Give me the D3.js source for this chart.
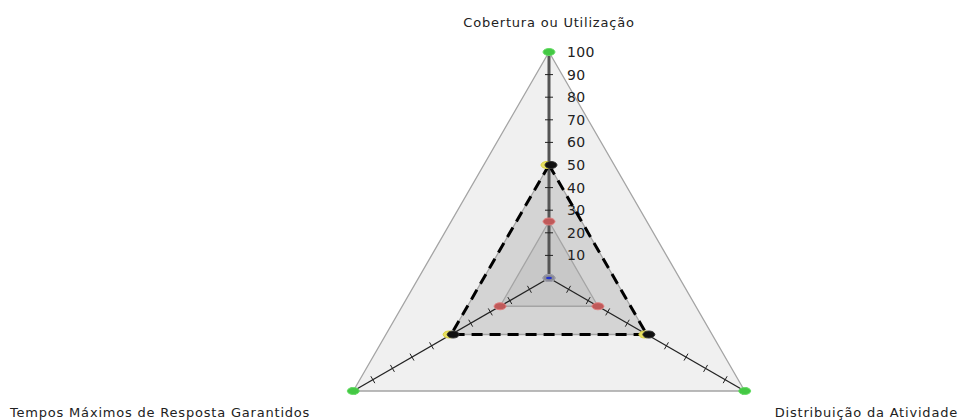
<!DOCTYPE html>
<html>
<head>
<meta charset="utf-8">
<script src="https://cdn.jsdelivr.net/npm/d3@7/dist/d3.min.js"></script>
<style>
  body { margin: 0; background: #fff; }
  svg text { font-family: "DejaVu Sans", sans-serif; font-size: 13px; fill: #222; }
</style>
</head>
<body>
<div id="chart"></div>
<script>
// axis categories
const axes = ["Cobertura ou Utilização", "Distribuição da Atividade", "Tempos Máximos de Resposta Garantidos"];
const ticks = [10, 20, 30, 40, 50, 60, 70, 80, 90, 100];

// series values (one per axis)
const maxValues = [100, 100, 100];
const midValues = [50, 50, 50];
const targetValues = [50, 50, 50];
const lowValues = [25, 25, 25];
const zeroValues = [0, 0, 0];

const width = 966, height = 420;
const cx = 549, cy = 278, R = 226;

const svg = d3.select("#chart").append("svg")
  .attr("width", width)
  .attr("height", height);

const r = d3.scaleLinear().domain([0, 100]).range([0, R]);
const angle = i => -Math.PI / 2 + i * 2 * Math.PI / 3;
const pt = (v, i) => [cx + r(v) * Math.cos(angle(i)), cy + r(v) * Math.sin(angle(i))];

const line = d3.line().curve(d3.curveLinearClosed);

// filled areas, big to small
function area(values, fill) {
  svg.append("path")
    .attr("d", line(values.map(pt)))
    .attr("fill", fill)
    .attr("stroke", "#a4a4a4")
    .attr("stroke-width", 1.3);
}
area(maxValues, "#f0f0f0");
area(midValues, "#d4d4d4");
area(lowValues, "#c8c8c8");

// axes with ticks
axes.forEach((name, i) => {
  const [x2, y2] = pt(100, i);
  const main = i === 0;
  svg.append("line")
    .attr("x1", cx).attr("y1", cy).attr("x2", x2).attr("y2", y2)
    .attr("stroke", main ? "#555" : "#222")
    .attr("stroke-width", main ? 3 : 1.3);
  const a = angle(i), nx = -Math.sin(a), ny = Math.cos(a);
  ticks.forEach(t => {
    const [tx, ty] = pt(t, i);
    svg.append("line")
      .attr("x1", tx - nx * 4).attr("y1", ty - ny * 4)
      .attr("x2", tx + nx * 4).attr("y2", ty + ny * 4)
      .attr("stroke", "#222").attr("stroke-width", 1);
  });
});

// tick labels on the vertical axis
svg.selectAll(".tick-label")
  .data(ticks)
  .enter().append("text")
  .attr("class", "tick-label")
  .attr("x", cx + 18)
  .attr("y", d => pt(d, 0)[1] + 5)
  .style("font-size", "14px")
  .style("letter-spacing", "0.4px")
  .text(d => d);

// dashed target line
svg.append("path")
  .attr("d", line(targetValues.map(pt)))
  .attr("fill", "none")
  .attr("stroke", "#000")
  .attr("stroke-width", 3)
  .attr("stroke-dasharray", "11,7");

// markers
function markers(values, fill, stroke, dx) {
  svg.append("g").selectAll("ellipse")
    .data(values)
    .enter().append("ellipse")
    .attr("cx", (d, i) => pt(d, i)[0] + (dx || 0))
    .attr("cy", (d, i) => pt(d, i)[1])
    .attr("rx", 6).attr("ry", 3.5)
    .attr("fill", fill)
    .attr("stroke", stroke)
    .attr("stroke-width", 1);
}
markers(maxValues, "#44c844", "#66dd66");
markers(midValues, "#e8e060", "#d8d040", -2);
markers(targetValues, "#111", "#333", 2);
markers(lowValues, "#c05a5a", "#e08080");
markers(zeroValues, "#8a8a96", "#a0a0aa");
svg.append("ellipse")
  .attr("cx", pt(0, 0)[0]).attr("cy", pt(0, 0)[1])
  .attr("rx", 3).attr("ry", 1.2)
  .attr("fill", "#2233cc");

// axis names
const labelPos = [
  { x: cx, y: 27, anchor: "middle" },
  { x: 958, y: 417, anchor: "end" },
  { x: 10, y: 417, anchor: "start" }
];
axes.forEach((name, i) => {
  svg.append("text")
    .attr("x", labelPos[i].x)
    .attr("y", labelPos[i].y)
    .attr("text-anchor", labelPos[i].anchor)
    .style("letter-spacing", "0.8px")
    .text(name);
});
</script>
</body>
</html>
